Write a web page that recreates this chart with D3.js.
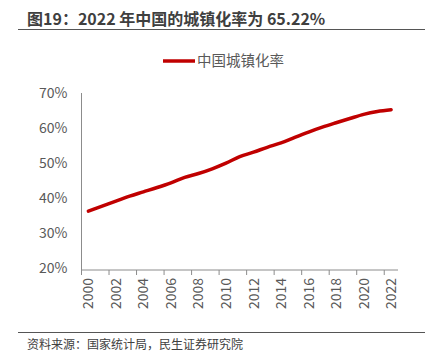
<!DOCTYPE html>
<html><head><meta charset="utf-8">
<script src="https://cdn.jsdelivr.net/npm/d3@7"></script>
<style>html,body{margin:0;padding:0;background:#fff;}svg{display:block;}</style>
</head><body>
<script>
const years = ["2000","2001","2002","2003","2004","2005","2006","2007","2008","2009","2010","2011","2012","2013","2014","2015","2016","2017","2018","2019","2020","2021","2022"];
const urbanRate = [36.22,37.66,39.09,40.53,41.76,42.99,44.34,45.89,46.99,48.34,49.95,51.83,53.10,54.49,55.75,57.33,58.84,60.24,61.50,62.71,63.89,64.72,65.22];
const yTicks = [20,30,40,50,60,70];
const seriesName = "中国城镇化率";
const title = "图19：2022 年中国的城镇化率为 65.22%";
const source = "资料来源：国家统计局，民生证券研究院";

const W = 434, H = 357;
const svg = d3.select("body").append("svg").attr("width", W).attr("height", H);
const font = "'Noto Sans CJK SC', 'Liberation Sans', sans-serif";

// title
svg.append("text").attr("x", 27).attr("y", 25).text(title)
  .attr("font-family", font).attr("font-size", 16).attr("font-weight", "bold").attr("fill", "#3f3f3f");
svg.append("line").attr("x1", 18).attr("x2", 425).attr("y1", 29.5).attr("y2", 29.5)
  .attr("stroke", "#555").attr("stroke-width", 1.2);

// scales
const x = d3.scaleBand().domain(years).range([81.5, 398]);
const y = d3.scaleLinear().domain([20, 70]).range([268, 93]);

// y axis
const gy = svg.append("g").attr("transform", "translate(81.5,0)")
  .call(d3.axisLeft(y).tickValues(yTicks).tickSize(0).tickPadding(14).tickFormat(d => d + "%"));
gy.select(".domain").attr("stroke", "#8c8c8c").attr("d", `M0,${y(70)}V${y(20)+2}`);
gy.selectAll("text").attr("font-family", font).attr("font-size", 14).attr("fill", "#595959");

// x axis
const gx = svg.append("g").attr("transform", "translate(0,270)");
gx.append("line").attr("x1", 81.5).attr("x2", 398).attr("y1", 0).attr("y2", 0).attr("stroke", "#8c8c8c");
const tickPos = years.filter((d, i) => i % 2 === 0);
gx.selectAll("line.tk").data(tickPos).join("line").attr("class", "tk")
  .attr("x1", d => x(d)).attr("x2", d => x(d)).attr("y1", 0).attr("y2", 5).attr("stroke", "#8c8c8c");
gx.selectAll("text").data(tickPos).join("text")
  .attr("transform", d => `translate(${x(d) + x.bandwidth()/2 + 5},8) rotate(-90)`)
  .attr("text-anchor", "end")
  .attr("font-family", font).attr("font-size", 14).attr("fill", "#595959")
  .text(d => d);

// line
const line = d3.line().x((d, i) => x(years[i]) + x.bandwidth()/2).y(d => y(d)).curve(d3.curveMonotoneX);
svg.append("path").datum(urbanRate).attr("d", line).attr("fill", "none")
  .attr("stroke", "#c00000").attr("stroke-width", 3.5).attr("stroke-linecap", "round");

// legend
svg.append("line").attr("x1", 163).attr("x2", 195).attr("y1", 61).attr("y2", 61)
  .attr("stroke", "#c00000").attr("stroke-width", 3.5);
svg.append("text").attr("x", 197).attr("y", 66).text(seriesName)
  .attr("font-family", font).attr("font-size", 14.5).attr("fill", "#595959");

// source
svg.append("line").attr("x1", 18).attr("x2", 425).attr("y1", 332.5).attr("y2", 332.5)
  .attr("stroke", "#555").attr("stroke-width", 1);
svg.append("text").attr("x", 27).attr("y", 349).text(source)
  .attr("font-family", font).attr("font-size", 12).attr("fill", "#404040");
</script>
</body></html>
